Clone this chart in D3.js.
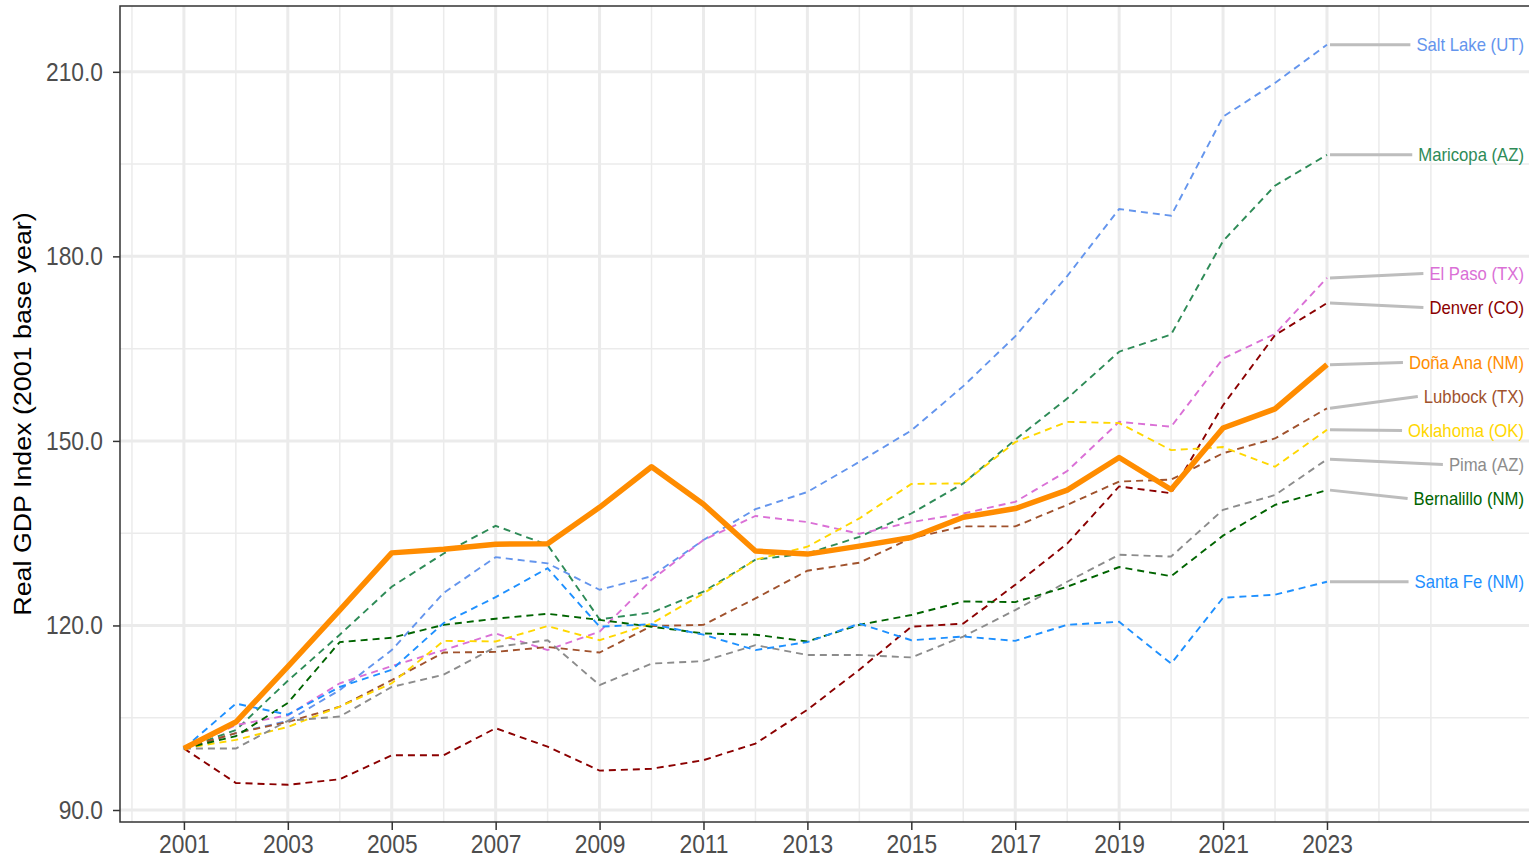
<!DOCTYPE html>
<html lang="en">
<head>
    <meta charset="UTF-8">
    <title>Real GDP Index (2001 base year)</title>
    <script src="https://d3js.org/d3.v7.min.js"></script>
    <style>
        body { margin: 0; background: #fff; font-family: "Liberation Sans", Arial, sans-serif; }
        svg { display: block; }
    </style>
</head>
<body>
    <div id="chart"></div>
    <script>
        // Data
        const years = d3.range(2001, 2024);
        const saltLake   = [100, 102.5, 104.5, 109.5, 116.0, 125.3, 131.1, 130.1, 125.8, 128.0, 133.9, 138.9, 141.7, 146.6, 151.7, 158.9, 167.0, 176.8, 187.7, 186.6, 202.7, 208.2, 214.4];
        const maricopa   = [100, 103.0, 111.0, 118.5, 126.3, 131.7, 136.2, 133.1, 121.0, 122.1, 125.5, 130.7, 131.7, 134.4, 138.2, 143.1, 150.2, 156.9, 164.5, 167.3, 182.5, 191.5, 196.5];
        const elPaso     = [100, 103.8, 105.4, 110.6, 113.4, 116.0, 118.7, 116.0, 119.0, 127.4, 133.9, 137.8, 136.8, 134.9, 136.8, 138.2, 140.1, 145.1, 153.1, 152.3, 163.4, 167.4, 176.5];
        const denver     = [100, 94.4, 94.1, 95.0, 98.9, 98.9, 103.3, 100.3, 96.4, 96.7, 98.1, 100.8, 106.3, 112.8, 119.8, 120.3, 126.6, 133.3, 142.6, 141.5, 155.8, 167.2, 172.4];
        const donaAna    = [100, 104.3, 113.3, 122.5, 131.8, 132.4, 133.2, 133.3, 139.2, 145.8, 139.7, 132.1, 131.6, 132.9, 134.3, 137.6, 139.0, 142.0, 147.3, 142.1, 152.1, 155.2, 162.4];
        const lubbock    = [100, 102.5, 104.3, 106.8, 111.1, 115.6, 115.7, 116.5, 115.6, 119.9, 120.1, 124.4, 128.9, 130.2, 134.2, 136.1, 136.1, 139.6, 143.4, 143.7, 148.0, 150.4, 155.3];
        const oklahoma   = [100, 101.4, 103.5, 106.8, 110.6, 117.5, 117.4, 119.9, 117.6, 120.3, 125.2, 130.7, 132.8, 137.4, 143.0, 143.1, 149.8, 153.1, 152.9, 148.5, 149.0, 145.8, 151.8];
        const pima       = [100, 100.0, 104.5, 105.2, 110.0, 112.0, 116.5, 117.6, 110.3, 113.8, 114.2, 116.8, 115.2, 115.2, 114.8, 118.2, 122.5, 127.1, 131.5, 131.2, 138.8, 141.2, 147.0];
        const bernalillo = [100, 102.0, 107.4, 117.3, 118.0, 120.1, 121.1, 121.9, 120.9, 119.8, 118.7, 118.5, 117.4, 120.1, 121.7, 123.9, 123.8, 126.3, 129.5, 128.0, 134.6, 139.6, 142.0];
        const santaFe    = [100, 107.3, 105.5, 110.0, 112.8, 120.4, 124.6, 129.3, 119.8, 120.2, 118.5, 116.0, 117.3, 120.3, 117.6, 118.2, 117.5, 120.1, 120.6, 113.8, 124.5, 125.0, 127.1];

        const countyNames = ["Salt Lake (UT)", "Maricopa (AZ)", "El Paso (TX)", "Denver (CO)", "Lubbock (TX)",
                             "Oklahoma (OK)", "Pima (AZ)", "Bernalillo (NM)", "Santa Fe (NM)", "Doña Ana (NM)"];
        const countyValues = [saltLake, maricopa, elPaso, denver, lubbock, oklahoma, pima, bernalillo, santaFe, donaAna];
        const countyColors = ["#6495ED", "#2E8B57", "#DA70D6", "#8B0000", "#A0522D",
                              "#FFD700", "#8C8C8C", "#006400", "#1E90FF", "#FF8C00"];
        const focusCounty = "Doña Ana (NM)";

        const yTicks = [90, 120, 150, 180, 210];
        const yMinor = [105, 135, 165, 195];
        const xTicks = d3.range(2001, 2024, 2);
        const xMinor = [2000, 2002, 2004, 2006, 2008, 2010, 2012, 2014, 2016, 2018, 2020, 2022, 2024, 2025];

        const series = countyNames.map((name, i) => ({
            name: name,
            color: countyColors[i],
            values: years.map((yr, j) => ({ year: yr, value: countyValues[i][j] }))
        }));

        // Layout
        const W = 1529, H = 858;
        const margin = { top: 6, right: -11, bottom: 36, left: 120 };
        const width = W - margin.left - margin.right;
        const height = H - margin.top - margin.bottom;
        const vStretch = 1.1; // glyphs in the reference are a bit taller than wide

        const svgRoot = d3.select("#chart").append("svg")
            .attr("width", W).attr("height", H);
        const svg = svgRoot.append("g")
            .attr("transform", `translate(${margin.left},${margin.top})`);

        const xScale = d3.scaleLinear().domain([1999.77, 2027.1]).range([0, width]);
        const yScale = d3.scaleLinear().domain([88.05, 220.7]).range([height, 0]);

        // Grid
        const grid = svg.append("g");
        grid.selectAll(".hminor").data(yMinor).enter().append("line")
            .attr("x1", 0).attr("x2", width)
            .attr("y1", d => yScale(d)).attr("y2", d => yScale(d))
            .attr("stroke", "#ebebeb").attr("stroke-width", 1.5);
        grid.selectAll(".vminor").data(xMinor).enter().append("line")
            .attr("y1", 0).attr("y2", height)
            .attr("x1", d => xScale(d)).attr("x2", d => xScale(d))
            .attr("stroke", "#ebebeb").attr("stroke-width", 1.5);
        grid.selectAll(".hmajor").data(yTicks).enter().append("line")
            .attr("x1", 0).attr("x2", width)
            .attr("y1", d => yScale(d)).attr("y2", d => yScale(d))
            .attr("stroke", "#ebebeb").attr("stroke-width", 3);
        grid.selectAll(".vmajor").data(xTicks).enter().append("line")
            .attr("y1", 0).attr("y2", height)
            .attr("x1", d => xScale(d)).attr("x2", d => xScale(d))
            .attr("stroke", "#ebebeb").attr("stroke-width", 3);

        // Lines
        const line = d3.line()
            .x(d => xScale(d.year))
            .y(d => yScale(d.value));

        const others = series.filter(s => s.name !== focusCounty);
        const focus = series.filter(s => s.name === focusCounty);

        svg.selectAll(".county").data(others).enter().append("path")
            .attr("class", "county")
            .attr("d", d => line(d.values))
            .attr("fill", "none")
            .attr("stroke", d => d.color)
            .attr("stroke-width", 1.9)
            .attr("stroke-dasharray", "7,5");

        svg.selectAll(".focus").data(focus).enter().append("path")
            .attr("class", "focus")
            .attr("d", d => line(d.values))
            .attr("fill", "none")
            .attr("stroke", d => d.color)
            .attr("stroke-width", 5.5)
            .attr("stroke-linejoin", "round");

        // Right-side labels with a simple repel
        const lastYear = years[years.length - 1];
        const labels = series.map(s => ({
            name: s.name,
            color: s.color,
            y0: yScale(s.values[s.values.length - 1].value)
        })).sort((a, b) => a.y0 - b.y0);
        labels.forEach(d => d.y = d.y0);
        const minGap = 34;
        for (let it = 0; it < 300; it++) {
            for (let i = 1; i < labels.length; i++) {
                const gap = labels[i].y - labels[i - 1].y;
                if (gap < minGap) {
                    const push = (minGap - gap) / 2;
                    labels[i].y += push;
                    labels[i - 1].y -= push;
                }
            }
        }

        const labelRight = 1524 - margin.left;
        const labelG = svg.append("g");
        const labelText = labelG.selectAll("text").data(labels).enter().append("text")
            .attr("transform", d => `translate(${labelRight},${d.y}) scale(1,${vStretch})`)
            .attr("dy", "0.35em")
            .attr("text-anchor", "end")
            .attr("font-size", 16.7)
            .attr("fill", d => d.color)
            .text(d => d.name);
        labelText.each(function(d) { d.w = this.getComputedTextLength(); });
        labelG.selectAll("line").data(labels).enter().insert("line", "text")
            .attr("x1", xScale(lastYear) + 3).attr("y1", d => d.y0)
            .attr("x2", d => labelRight - d.w - 6).attr("y2", d => d.y)
            .attr("stroke", "#bdbdbd").attr("stroke-width", 3);

        // Panel border
        svg.append("rect")
            .attr("width", width).attr("height", height)
            .attr("fill", "none").attr("stroke", "#333").attr("stroke-width", 1.5);

        // Axes
        const yAxis = svg.append("g")
            .call(d3.axisLeft(yScale).tickValues(yTicks).tickFormat(d3.format(".1f")).tickSize(7).tickPadding(10));
        const xAxis = svg.append("g")
            .attr("transform", `translate(0,${height})`)
            .call(d3.axisBottom(xScale).tickValues(xTicks).tickFormat(d3.format("d")).tickSize(8).tickPadding(4));
        [yAxis, xAxis].forEach(ax => {
            ax.select(".domain").remove();
            ax.selectAll(".tick line").attr("stroke", "#333").attr("stroke-width", 1.5);
            ax.selectAll(".tick text")
                .attr("fill", "#4d4d4d")
                .attr("font-size", 22.8)
                .attr("font-family", "'Liberation Sans', Arial, sans-serif")
                .attr("transform", `scale(1,${vStretch})`);
        });
        yAxis.selectAll(".tick text").attr("dy", "0.34em");

        // Axis title
        svgRoot.append("text")
            .attr("transform", `translate(31,${margin.top + height / 2}) rotate(-90) scale(${vStretch},1)`)
            .attr("text-anchor", "middle")
            .attr("font-size", 24.4)
            .attr("fill", "#000")
            .text("Real GDP Index (2001 base year)");
    </script>
</body>
</html>
